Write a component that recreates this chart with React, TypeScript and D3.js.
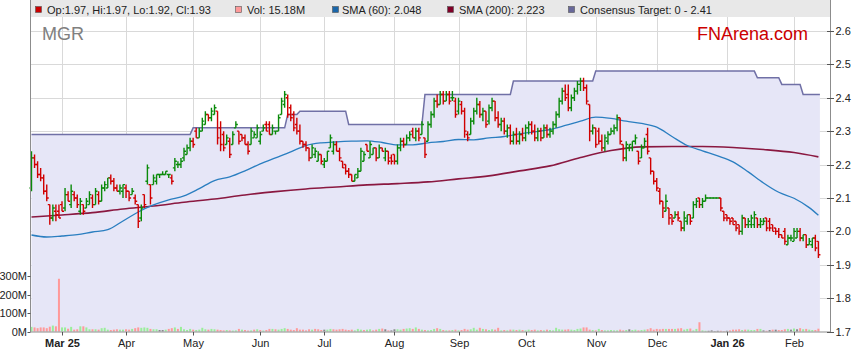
import React from "react";
import * as d3 from "d3";

const W = 859;
const H = 363;

const ticker = "MGR";
const brand = "FNArena.com";
const startDate = "2025-02-17";
const barCount = 259;

const open = [
  2.13,2.22,2.20,2.17,2.16,2.12,2.08,2.04,2.06,2.06,
  2.08,2.07,2.11,2.08,2.11,2.10,2.06,2.08,2.07,2.08,
  2.10,2.08,2.11,2.09,2.13,2.13,2.16,2.15,2.13,2.12,
  2.12,2.13,2.12,2.11,2.10,2.08,2.04,2.11,2.15,2.14,
  2.14,2.15,2.17,2.17,2.17,2.17,2.16,2.19,2.20,2.20,
  2.22,2.23,2.25,2.27,2.30,2.28,2.30,2.32,2.35,2.34,
  2.35,2.36,2.31,2.29,2.26,2.27,2.26,2.31,2.30,2.29,
  2.28,2.26,2.26,2.28,2.28,2.27,2.30,2.32,2.32,2.29,
  2.30,2.30,2.35,2.38,2.40,2.37,2.35,2.32,2.30,2.27,
  2.26,2.25,2.22,2.23,2.21,2.23,2.20,2.21,2.25,2.24,
  2.26,2.24,2.21,2.20,2.18,2.17,2.15,2.16,2.18,2.21,
  2.26,2.22,2.23,2.25,2.22,2.25,2.22,2.24,2.22,2.23,
  2.21,2.25,2.27,2.26,2.28,2.30,2.28,2.30,2.29,2.28,
  2.27,2.32,2.35,2.39,2.38,2.41,2.39,2.41,2.40,2.39,
  2.36,2.38,2.36,2.29,2.29,2.33,2.36,2.38,2.35,2.36,
  2.33,2.37,2.39,2.34,2.32,2.33,2.30,2.31,2.27,2.29,
  2.27,2.29,2.28,2.31,2.32,2.30,2.28,2.30,2.28,2.31,
  2.29,2.30,2.32,2.35,2.39,2.42,2.41,2.37,2.40,2.42,
  2.44,2.45,2.43,2.38,2.30,2.31,2.30,2.27,2.25,2.27,
  2.29,2.30,2.31,2.34,2.26,2.22,2.25,2.25,2.27,2.24,
  2.22,2.25,2.29,2.22,2.18,2.15,2.12,2.09,2.06,2.07,
  2.05,2.04,2.05,2.03,2.01,2.03,2.05,2.04,2.08,2.10,
  2.08,2.09,2.10,2.10,2.10,2.10,2.10,2.06,2.05,2.04,
  2.04,2.03,2.02,2.00,2.04,2.02,2.02,2.02,2.04,2.02,
  2.02,2.04,2.03,2.02,2.01,2.00,1.99,2.00,1.96,1.98,
  1.97,1.98,2.00,1.98,1.99,1.96,1.96,1.98,1.97
];
const high = [
  2.24,2.23,2.21,2.19,2.17,2.14,2.08,2.08,2.08,2.08,
  2.09,2.13,2.12,2.14,2.12,2.11,2.10,2.08,2.10,2.12,
  2.11,2.13,2.12,2.14,2.15,2.16,2.17,2.16,2.14,2.14,
  2.14,2.14,2.12,2.13,2.11,2.08,2.08,2.11,2.20,2.14,
  2.17,2.17,2.17,2.18,2.18,2.17,2.17,2.22,2.21,2.22,
  2.25,2.26,2.28,2.28,2.31,2.31,2.34,2.36,2.35,2.37,
  2.38,2.36,2.33,2.30,2.29,2.28,2.30,2.33,2.30,2.29,
  2.29,2.27,2.31,2.30,2.32,2.30,2.32,2.33,2.33,2.32,
  2.30,2.35,2.40,2.42,2.41,2.38,2.36,2.34,2.32,2.27,
  2.27,2.25,2.26,2.25,2.24,2.23,2.22,2.24,2.29,2.27,
  2.27,2.25,2.21,2.20,2.19,2.17,2.17,2.19,2.25,2.24,
  2.26,2.27,2.25,2.25,2.26,2.25,2.25,2.24,2.23,2.23,
  2.26,2.28,2.28,2.29,2.30,2.31,2.31,2.31,2.33,2.28,
  2.33,2.36,2.40,2.41,2.42,2.42,2.42,2.42,2.42,2.40,
  2.40,2.39,2.37,2.30,2.34,2.37,2.40,2.39,2.37,2.36,
  2.38,2.40,2.39,2.36,2.34,2.34,2.32,2.32,2.30,2.31,
  2.30,2.31,2.32,2.33,2.33,2.32,2.31,2.31,2.32,2.32,
  2.31,2.33,2.36,2.40,2.43,2.44,2.44,2.41,2.43,2.45,
  2.46,2.46,2.44,2.38,2.32,2.31,2.31,2.29,2.29,2.30,
  2.31,2.32,2.35,2.34,2.26,2.27,2.26,2.27,2.29,2.24,
  2.26,2.28,2.31,2.22,2.18,2.16,2.13,2.09,2.11,2.07,
  2.05,2.06,2.06,2.03,2.06,2.05,2.05,2.09,2.10,2.10,
  2.10,2.11,2.10,2.10,2.10,2.10,2.10,2.06,2.05,2.04,
  2.04,2.03,2.02,2.05,2.04,2.04,2.05,2.06,2.04,2.04,
  2.04,2.04,2.04,2.02,2.01,2.01,1.99,2.01,1.99,1.99,
  2.01,2.01,2.01,1.99,1.99,1.98,1.98,1.99,1.97
];
const low = [
  2.12,2.19,2.16,2.15,2.11,2.09,2.02,2.03,2.03,2.04,
  2.06,2.06,2.09,2.07,2.09,2.07,2.05,2.05,2.07,2.08,
  2.07,2.08,2.08,2.09,2.12,2.13,2.14,2.12,2.12,2.11,
  2.10,2.10,2.09,2.11,2.08,2.01,2.03,2.07,2.14,2.08,
  2.14,2.14,2.16,2.17,2.17,2.16,2.14,2.18,2.19,2.19,
  2.21,2.23,2.24,2.25,2.28,2.28,2.30,2.32,2.33,2.33,
  2.35,2.26,2.24,2.24,2.26,2.22,2.26,2.31,2.26,2.27,
  2.26,2.23,2.26,2.28,2.28,2.26,2.30,2.30,2.29,2.29,
  2.29,2.30,2.35,2.37,2.34,2.33,2.30,2.29,2.26,2.25,
  2.24,2.21,2.22,2.22,2.21,2.20,2.19,2.21,2.25,2.23,
  2.24,2.21,2.19,2.17,2.16,2.15,2.15,2.16,2.18,2.21,
  2.24,2.22,2.23,2.21,2.22,2.24,2.21,2.20,2.20,2.20,
  2.20,2.24,2.25,2.26,2.27,2.28,2.27,2.27,2.29,2.22,
  2.27,2.31,2.34,2.37,2.38,2.38,2.39,2.38,2.39,2.34,
  2.35,2.35,2.28,2.27,2.29,2.32,2.35,2.34,2.33,2.31,
  2.32,2.36,2.33,2.31,2.30,2.29,2.28,2.26,2.26,2.26,
  2.26,2.27,2.27,2.29,2.29,2.27,2.27,2.27,2.28,2.28,
  2.28,2.29,2.31,2.34,2.38,2.39,2.36,2.36,2.39,2.41,
  2.42,2.42,2.38,2.27,2.29,2.25,2.26,2.24,2.24,2.26,
  2.29,2.29,2.30,2.26,2.21,2.21,2.24,2.24,2.26,2.20,
  2.22,2.25,2.23,2.17,2.14,2.12,2.08,2.04,2.06,2.02,
  2.02,2.04,2.03,2.00,2.00,2.02,2.02,2.04,2.07,2.07,
  2.07,2.09,2.10,2.10,2.10,2.10,2.06,2.03,2.03,2.02,
  2.02,2.00,1.99,1.99,2.01,2.01,2.01,2.01,2.01,2.01,
  2.02,2.00,2.00,2.00,1.99,1.98,1.98,1.96,1.96,1.97,
  1.97,1.98,1.97,1.97,1.95,1.96,1.95,1.94,1.92
];
const close = [
  2.22,2.20,2.17,2.16,2.12,2.10,2.04,2.07,2.05,2.04,
  2.06,2.11,2.09,2.12,2.10,2.08,2.09,2.06,2.09,2.11,
  2.08,2.12,2.09,2.13,2.14,2.16,2.15,2.13,2.12,2.13,
  2.14,2.12,2.10,2.12,2.09,2.03,2.07,2.08,2.19,2.10,
  2.16,2.17,2.17,2.17,2.18,2.17,2.15,2.21,2.20,2.21,
  2.24,2.25,2.27,2.26,2.28,2.30,2.33,2.35,2.34,2.36,
  2.37,2.28,2.26,2.25,2.28,2.23,2.29,2.32,2.27,2.28,
  2.26,2.24,2.30,2.29,2.31,2.29,2.31,2.30,2.29,2.31,
  2.30,2.34,2.39,2.41,2.35,2.34,2.31,2.30,2.27,2.26,
  2.25,2.22,2.25,2.24,2.23,2.21,2.21,2.24,2.28,2.26,
  2.24,2.22,2.19,2.18,2.17,2.15,2.17,2.18,2.24,2.23,
  2.24,2.26,2.25,2.22,2.25,2.24,2.24,2.21,2.21,2.21,
  2.25,2.27,2.26,2.28,2.29,2.28,2.30,2.28,2.32,2.23,
  2.32,2.35,2.39,2.38,2.41,2.39,2.41,2.39,2.40,2.35,
  2.39,2.36,2.30,2.28,2.33,2.36,2.38,2.35,2.36,2.32,
  2.37,2.39,2.34,2.32,2.33,2.30,2.31,2.27,2.29,2.27,
  2.29,2.28,2.31,2.32,2.30,2.28,2.30,2.28,2.31,2.29,
  2.30,2.32,2.35,2.39,2.42,2.40,2.37,2.40,2.42,2.44,
  2.45,2.43,2.39,2.30,2.31,2.26,2.27,2.25,2.28,2.29,
  2.30,2.31,2.34,2.27,2.22,2.26,2.26,2.27,2.28,2.21,
  2.25,2.27,2.24,2.18,2.15,2.13,2.09,2.07,2.09,2.04,
  2.03,2.05,2.04,2.01,2.04,2.05,2.03,2.08,2.09,2.08,
  2.09,2.10,2.10,2.10,2.10,2.10,2.07,2.04,2.04,2.03,
  2.02,2.01,2.00,2.04,2.02,2.03,2.04,2.05,2.02,2.03,
  2.03,2.01,2.01,2.00,2.00,1.99,1.98,1.97,1.98,1.98,
  2.00,2.00,1.98,1.99,1.96,1.97,1.98,1.95,1.93
];
// volume in millions
const volume = [
  25,22,18,22,22,18,26,32,28,285,
  22,22,15,25,10,12,28,28,22,12,
  12,12,10,18,20,10,8,10,12,10,
  10,12,10,14,18,22,20,22,20,14,
  12,12,8,8,10,14,18,22,14,25,
  12,8,14,10,8,10,20,12,10,14,
  12,10,8,6,8,6,5,6,14,10,
  8,5,6,10,12,8,5,8,14,14,
  12,10,14,18,14,10,8,18,10,10,
  6,12,10,14,12,8,10,10,14,12,
  10,12,14,10,8,10,6,14,10,8,
  10,12,6,10,14,16,12,6,6,12,
  12,10,14,16,18,14,22,14,10,8,
  6,8,14,18,14,8,6,6,8,10,
  6,8,14,10,12,20,10,20,14,12,
  8,12,10,20,6,8,6,10,10,8,
  10,8,6,10,8,10,6,8,6,10,
  8,6,20,12,10,10,12,10,8,14,
  16,22,22,10,8,6,14,8,6,6,
  8,6,6,10,6,8,12,8,10,6,
  8,10,12,18,10,14,12,14,14,14,
  14,14,16,18,10,14,16,6,14,50,
  6,4,4,6,2,4,4,2,4,6,
  10,10,12,8,10,10,8,8,14,14,
  6,4,8,10,10,8,8,12,14,10,
  16,12,18,12,14,10,8,8,15.18
];

const sma60Step = 5;
const sma60 = [
  1.989,1.983,1.986,1.990,1.998,2.005,2.031,2.058,2.079,2.094,
  2.106,2.128,2.152,2.163,2.181,2.202,2.220,2.238,2.257,2.265,
  2.268,2.270,2.271,2.266,2.259,2.259,2.265,2.269,2.275,2.274,
  2.280,2.284,2.292,2.298,2.305,2.317,2.330,2.342,2.338,2.330,
  2.323,2.312,2.284,2.257,2.241,2.226,2.208,2.178,2.145,2.117,
  2.099,2.071,2.048
];
const sma200Step = 10;
const sma200 = [
  2.043,2.049,2.056,2.067,2.076,2.087,2.097,2.109,2.119,2.127,
  2.133,2.139,2.143,2.148,2.157,2.166,2.181,2.196,2.221,2.242,
  2.253,2.254,2.254,2.251,2.245,2.236,2.223
];

const targetStart = 2.29;
const targetDates = ["2025-05-01","2025-06-13","2025-06-19","2025-07-11","2025-08-15","2025-09-25","2025-11-03","2026-01-15","2026-01-27","2026-02-05"];
const targetValues = [2.31,2.35,2.36,2.32,2.41,2.45,2.48,2.46,2.44,2.41];

const priceTicks = [1.7,1.8,1.9,2.0,2.1,2.2,2.3,2.4,2.5,2.6];
const volumeTicks = [0,100,200,300];

const FONT = "'Liberation Sans', Arial, Helvetica, sans-serif";

export default function App() {
  const dates: Date[] = [];
  {
    let t = Date.parse(startDate + "T00:00:00Z");
    while (dates.length < barCount) {
      const d = new Date(t);
      const wd = d.getUTCDay();
      if (wd !== 0 && wd !== 6) dates.push(d);
      t += 86400000;
    }
  }
  const iso = dates.map((d) => d.toISOString().slice(0, 10));
  const target = iso.map((s) => {
    let v = targetStart;
    targetDates.forEach((td, k) => {
      if (s >= td) v = targetValues[k];
    });
    return v;
  });

  const n = barCount;
  const x = d3.scaleLinear().domain([0, n - 1]).range([31.5, 818.4]);
  const y = d3.scaleLinear().domain([1.7, 2.6]).range([331.5, 31]);
  const yv = d3.scaleLinear().domain([0, 300]).range([331.5, 276]);

  const left = 30.5, right = 830.5, bottom = 331.5, legendH = 17;

  // month ticks
  const monthTicks: number[] = [];
  for (let i = 1; i < n; i++) {
    if (dates[i].getUTCMonth() !== dates[i - 1].getUTCMonth()) monthTicks.push(i);
  }
  const fmtMonth = d3.utcFormat("%b");
  const fmtMonthYear = d3.utcFormat("%b %y");

  // target area/line
  const tPts: [number, number][] = target.map((v, i) => [x(i), y(v)]);
  tPts.push([x(n - 1) + 1.5, y(target[n - 1])]);
  const areaGen = d3.area<[number, number]>().x((d) => d[0]).y0(bottom).y1((d) => d[1]);
  const lineGen = d3.line<[number, number]>().x((d) => d[0]).y((d) => d[1]);

  const smaPts = (arr: number[], step: number): [number, number][] =>
    arr.map((v, k) => {
      const idx = k < arr.length - 1 ? k * step : n - 1;
      return [x(idx), y(v)];
    });
  const smaLine = d3.line<[number, number]>().x((d) => d[0]).y((d) => d[1]).curve(d3.curveMonotoneX);

  const upC = "#0a8a0a", dnC = "#d00000";

  const last = n - 1;
  const legend = [
    { color: "#cc0000", text: `Op:${open[last].toFixed(2)}, Hi:${high[last].toFixed(2)}, Lo:${low[last].toFixed(2)}, Cl:${close[last].toFixed(2)}`, sx: 35, tx: 47 },
    { color: "#ff9999", text: `Vol: ${volume[last].toFixed(2)}M`, sx: 235, tx: 247 },
    { color: "#1a66aa", text: `SMA (60): ${sma60[sma60.length - 1].toFixed(3)}`, sx: 332, tx: 342 },
    { color: "#800028", text: `SMA (200): ${sma200[sma200.length - 1].toFixed(3)}`, sx: 447, tx: 459 },
    { color: "#68689a", text: `Consensus Target: 0 - ${target[last].toFixed(2)}`, sx: 568, tx: 580 },
  ];

  return (
    <svg width={W} height={H} style={{ position: "absolute", left: 0, top: 0, display: "block" }} fontFamily={FONT}>
      <rect x={0} y={0} width={W} height={H} fill="#ffffff" />
      {/* legend bar */}
      <rect x={left} y={0} width={right - left} height={legendH} fill="#e8e8e8" />
      {legend.map((l, k) => (
        <g key={k}>
          <rect x={l.sx + 0.5} y={6.5} width={6} height={6} fill={l.color} stroke="#555" strokeWidth={0.6} />
          <text x={l.tx} y={14.2} fontSize={11} fill="#222">{l.text}</text>
        </g>
      ))}
      {/* gridlines */}
      {priceTicks.filter((t) => t > 1.7).map((t) => (
        <line key={"h" + t} x1={left} x2={right} y1={Math.round(y(t)) + 0.5} y2={Math.round(y(t)) + 0.5} stroke="#d9d9d9" strokeWidth={1} />
      ))}
      {monthTicks.map((i) => (
        <line key={"v" + i} x1={Math.round(x(i)) + 0.5} x2={Math.round(x(i)) + 0.5} y1={legendH} y2={bottom} stroke="#d9d9d9" strokeWidth={1} />
      ))}
      {/* consensus target area */}
      <path d={areaGen(tPts) || ""} fill="#e6e6f7" />
      <path d={lineGen(tPts) || ""} fill="none" stroke="#7070a6" strokeWidth={1.5} />
      {/* watermark texts */}
      <text x={42} y={40} fontSize={18} fill="#808080">{ticker}</text>
      <text x={808} y={40} fontSize={18} fill="#cc0000" textAnchor="end">{brand}</text>
      {/* volume */}
      {volume.map((v, i) => {
        const prev = i > 0 ? close[i - 1] : open[i];
        const c = close[i] > prev ? "#99ee99" : close[i] < prev ? "#ff9999" : "#888888";
        const top = yv(v);
        return <rect key={"vol" + i} x={x(i) - 1} y={top} width={2} height={bottom - top} fill={c} />;
      })}
      {/* moving averages */}
      <path d={smaLine(smaPts(sma200, sma200Step)) || ""} fill="none" stroke="#8a1840" strokeWidth={1.6} />
      <path d={smaLine(smaPts(sma60, sma60Step)) || ""} fill="none" stroke="#2a7ec0" strokeWidth={1.3} />
      {/* OHLC bars */}
      {close.map((c, i) => {
        const xi = x(i);
        const col = c >= open[i] ? upC : dnC;
        const d = `M${xi},${y(high[i])}V${y(low[i])}M${xi - 2},${y(open[i])}H${xi}M${xi},${y(c)}H${xi + 2}`;
        return <path key={"b" + i} d={d} stroke={col} strokeWidth={1.4} fill="none" />;
      })}
      {/* axes */}
      <line x1={left} x2={left} y1={0} y2={bottom + 0.5} stroke="#8c8c8c" strokeWidth={1} />
      <line x1={right} x2={right} y1={0} y2={bottom + 0.5} stroke="#8c8c8c" strokeWidth={1} />
      <line x1={left} x2={right} y1={bottom + 0.5} y2={bottom + 0.5} stroke="#8c8c8c" strokeWidth={1} />
      {/* right price axis */}
      {priceTicks.map((t) => (
        <g key={"pt" + t}>
          <line x1={827} x2={834} y1={Math.round(y(t)) + 0.5} y2={Math.round(y(t)) + 0.5} stroke="#555" strokeWidth={1} />
          <text x={835.5} y={y(t) + 4} fontSize={11} fill="#222">{t.toFixed(1)}</text>
        </g>
      ))}
      {/* left volume axis */}
      {volumeTicks.map((t) => (
        <g key={"vt" + t}>
          <line x1={27.5} x2={left} y1={Math.round(yv(t)) + 0.5} y2={Math.round(yv(t)) + 0.5} stroke="#555" strokeWidth={1} />
          <text x={27} y={yv(t) + 4} fontSize={11} fill="#222" textAnchor="end">{t}M</text>
        </g>
      ))}
      {/* bottom date axis */}
      {monthTicks.map((i, k) => {
        const d = dates[i];
        const bold = k === 0 || d.getUTCMonth() === 0;
        const xi = Math.round(x(i)) + 0.5;
        return (
          <g key={"mt" + i}>
            <line x1={xi} x2={xi} y1={bottom + 0.5} y2={bottom + 4} stroke="#555" strokeWidth={1} />
            <text x={xi} y={347} fontSize={11} fill="#222" textAnchor="middle" fontWeight={bold ? "bold" : "normal"}>
              {bold ? fmtMonthYear(d) : fmtMonth(d)}
            </text>
          </g>
        );
      })}
    </svg>
  );
}
